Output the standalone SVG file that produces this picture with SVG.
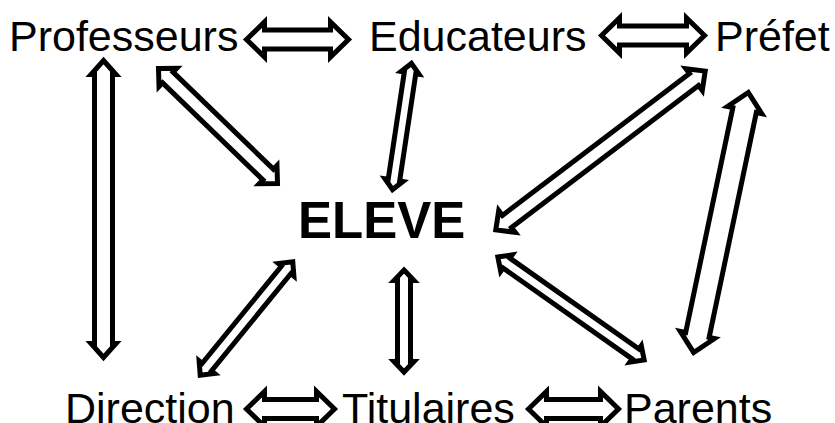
<svg xmlns="http://www.w3.org/2000/svg" width="835" height="423" viewBox="0 0 835 423">
<style>
text{font-family:"Liberation Sans",Arial,sans-serif;font-size:43px;fill:#000}
.main{font-weight:bold;font-size:51px}
.arr{fill:#fff;stroke:#000;stroke-width:5;stroke-linejoin:miter;stroke-miterlimit:4}
</style>
<rect width="835" height="423" fill="#fff"/>
<g id="connectors">
<path class="arr" transform="translate(297.5,39.5)" d="M-51 0L-33-17.5L-33-9.5L33-9.5L33-17.5L51 0L33 17.5L33 9.5L-33 9.5L-33 17.5Z"/>
<path class="arr" transform="translate(653,35.5)" d="M-51.5 0L-33.5-17.5L-33.5-9.5L33.5-9.5L33.5-17.5L51.5 0L33.5 17.5L33.5 9.5L-33.5 9.5L-33.5 17.5Z"/>
<path class="arr" transform="translate(290.5,409)" d="M-44 0L-26-17.5L-26-9.5L26-9.5L26-17.5L44 0L26 17.5L26 9.5L-26 9.5L-26 17.5Z"/>
<path class="arr" transform="translate(573.5,409)" d="M-45 0L-27-17.5L-27-9.5L27-9.5L27-17.5L45 0L27 17.5L27 9.5L-27 9.5L-27 17.5Z"/>
<path class="arr" transform="translate(103.5,209) rotate(90)" d="M-148.5 0L-134.5-12.5L-134.5-9L134.5-9L134.5-12.5L148.5 0L134.5 12.5L134.5 9L-134.5 9L-134.5 12.5Z"/>
<path class="arr" transform="translate(402,126.5) rotate(98.55)" d="M-63.75 0L-54.25-9L-54.25-5.8L54.25-5.8L54.25-9L63.75 0L54.25 9L54.25 5.8L-54.25 5.8L-54.25 9Z"/>
<path class="arr" transform="translate(218,126) rotate(44.06)" d="M-82.8 0L-69.8-12.7L-69.8-7.5L69.8-7.5L69.8-12.7L82.8 0L69.8 12.7L69.8 7.5L-69.8 7.5L-69.8 12.7Z"/>
<path class="arr" transform="translate(600.5,150.5) rotate(-37.17)" d="M-131.4 0L-117.4-13.6L-117.4-7.5L117.4-7.5L117.4-13.6L131.4 0L117.4 13.6L117.4 7.5L-117.4 7.5L-117.4 13.6Z"/>
<path class="arr" transform="translate(721,222.5) rotate(-78.15)" d="M-132.9 0L-114.9-17.5L-114.9-12L114.9-12L114.9-17.5L132.9 0L114.9 17.5L114.9 12L-114.9 12L-114.9 17.5Z"/>
<path class="arr" transform="translate(571,308.5) rotate(35.14)" d="M-89.45 0L-78.95-10L-78.95-6L78.95-6L78.95-10L89.45 0L78.95 10L78.95 6L-78.95 6L-78.95 10Z"/>
<path class="arr" transform="translate(246.5,318.5) rotate(-50.82)" d="M-73.25 0L-62.75-10L-62.75-6L62.75-6L62.75-10L73.25 0L62.75 10L62.75 6L-62.75 6L-62.75 10Z"/>
<path class="arr" transform="translate(404,321) rotate(90)" d="M-51 0L-40.5-10L-40.5-6.5L40.5-6.5L40.5-10L51 0L40.5 10L40.5 6.5L-40.5 6.5L-40.5 10Z"/>
</g>
<g id="professeurs"><text x="9" y="51">Professeurs</text></g>
<g id="educateurs"><text x="369" y="51">Educateurs</text></g>
<g id="prefet"><text x="715" y="51">Préfet</text></g>
<g id="eleve"><text class="main" x="298" y="238">ELEVE</text></g>
<g id="direction"><text x="65" y="423">Direction</text></g>
<g id="titulaires"><text x="342" y="423">Titulaires</text></g>
<g id="parents"><text x="624" y="423">Parents</text></g>
</svg>
